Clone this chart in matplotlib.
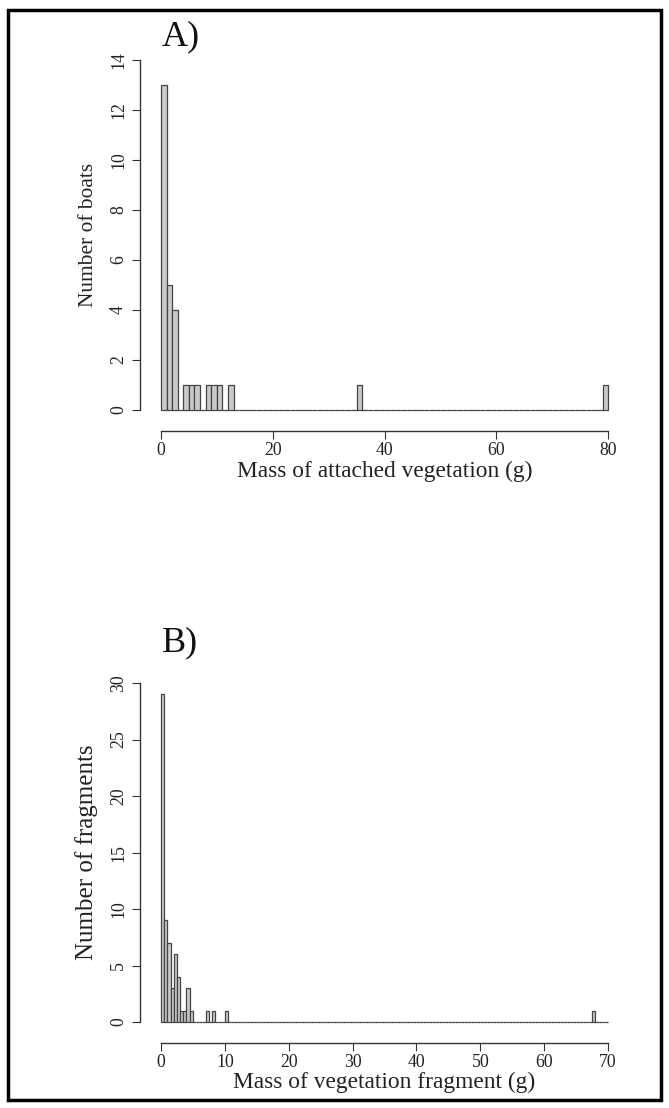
import numpy as np
import matplotlib.pyplot as plt
from matplotlib.patches import Rectangle

plt.rcParams['font.family'] = ['Liberation Serif', 'DejaVu Serif']

# Panel A: attached vegetation per boat, 1 g bins
a_bin_left = [0, 1, 2, 4, 5, 6, 8, 9, 10, 12, 35, 79]
a_counts = [13, 5, 4, 1, 1, 1, 1, 1, 1, 1, 1, 1]
a_xticks = [0, 20, 40, 60, 80]
a_yticks = [0, 2, 4, 6, 8, 10, 12, 14]

# Panel B: fragment mass, 0.5 g bins
b_bin_left = [0, 0.5, 1, 1.5, 2, 2.5, 3, 3.5, 4, 4.5, 7, 8, 10, 67.5]
b_counts = [29, 9, 7, 3, 6, 4, 1, 1, 3, 1, 1, 1, 1, 1]
b_xticks = [0, 10, 20, 30, 40, 50, 60, 70]
b_yticks = [0, 5, 10, 15, 20, 25, 30]

W, H = 669, 1108
fig = plt.figure(figsize=(W / 100, H / 100), dpi=100)

fill = '#cacaca'
edge = '#444444'


def panel(ax, lefts, counts, width, xmax, ymax, xticks, yticks, xlabel, ylabel, ylab_size):
    nb = int(round(xmax / width))
    full = np.zeros(nb)
    for l, c in zip(lefts, counts):
        full[int(round(l / width))] = c
    edges = np.arange(nb) * width
    ax.bar(edges, full, width=width, align='edge', color=fill,
           edgecolor=edge, linewidth=0.9)
    ax.set_xlim(-0.04 * xmax, 1.04 * xmax)
    ax.set_ylim(-0.04 * ymax, 1.04 * ymax)
    for s in ['top', 'right']:
        ax.spines[s].set_visible(False)
    ax.spines['bottom'].set_bounds(0, xmax)
    ax.spines['left'].set_bounds(0, ymax)
    ax.spines['bottom'].set_position(('outward', 5))
    ax.spines['left'].set_position(('outward', 2))
    for s in ['bottom', 'left']:
        ax.spines[s].set_color('#333333')
        ax.spines[s].set_linewidth(1.0)
    ax.set_xticks(xticks)
    ax.set_yticks(yticks)
    ax.tick_params(axis='both', labelsize=12.8, length=6, color='#333333',
                   labelcolor='#222222')
    ax.tick_params(axis='x', pad=2)
    ax.tick_params(axis='y', labelrotation=90)
    for t in ax.get_yticklabels():
        t.set_va('center')
    ax.set_xlabel(xlabel, fontsize=16.8, color='#222222', labelpad=1)
    ax.set_ylabel(ylabel, fontsize=ylab_size, color='#222222', labelpad=9)


ax1 = fig.add_axes([0.2138, 0.6173, 0.722, 0.3412])
panel(ax1, a_bin_left, a_counts, 1, 80, 14, a_xticks, a_yticks,
      'Mass of attached vegetation (g)', 'Number of boats', 15.4)

ax2 = fig.add_axes([0.2138, 0.0653, 0.722, 0.3305])
panel(ax2, b_bin_left, b_counts, 0.5, 70, 30, b_xticks, b_yticks,
      'Mass of vegetation fragment (g)', 'Number of fragments', 18)

fig.text(162 / W, 1 - 20 / H, 'A)', fontsize=26, ha='left', va='top', color='#111111')
fig.text(162 / W, 1 - 626 / H, 'B)', fontsize=26, ha='left', va='top', color='#111111')

fig.patches.append(Rectangle((0.012, 0.007), 0.976, 0.984, transform=fig.transFigure,
                             fill=False, edgecolor='black', linewidth=2.5))

fig.savefig('out.png', dpi=100)
